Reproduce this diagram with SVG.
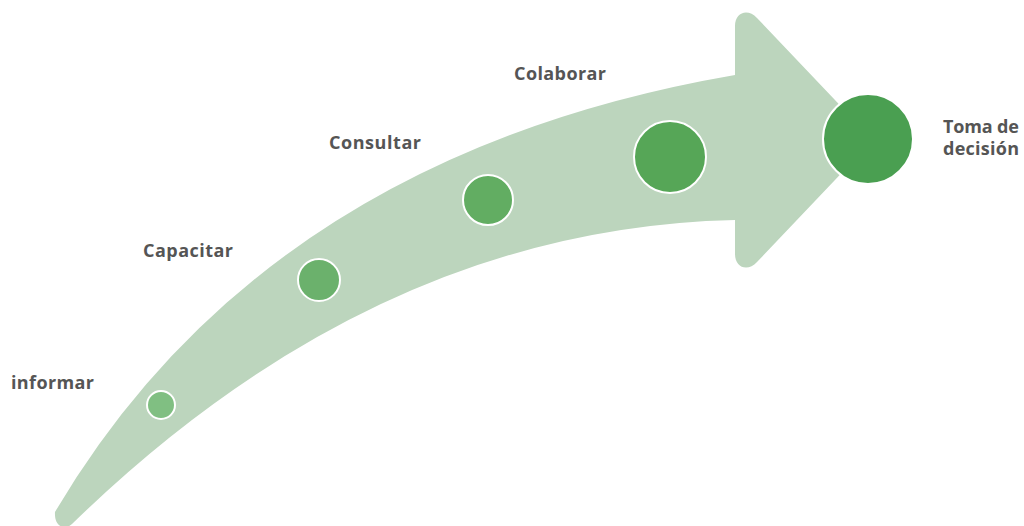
<svg xmlns="http://www.w3.org/2000/svg" width="1024" height="526" viewBox="0 0 1024 526">
<style>
.lbl{font-family:"Open Sans","Noto Sans",sans-serif;font-weight:bold;font-size:18px;fill:#555555}
.dot{stroke:#ffffff;stroke-width:2}
</style>
<rect width="1024" height="526" fill="#ffffff"/>
<g id="connectors">
<path id="arrow" fill="#bcd5bd" d="M55,512 Q265,156 735,75 L735,26 C735,12 748,8 757,18 L873,140 L757,262 C748,272 735,268 735,254 L735,220 Q376,228 72,524 C66,530 54,528 55,512 Z"/>
</g>
<g id="informar"><circle class="dot" cx="161" cy="405" r="14" fill="#80bf82"/><text class="lbl" x="11" y="389" textLength="83" lengthAdjust="spacing">informar</text></g>
<g id="capacitar"><circle class="dot" cx="319" cy="280" r="21" fill="#6bb16c"/><text class="lbl" x="143" y="257" textLength="90" lengthAdjust="spacing">Capacitar</text></g>
<g id="consultar"><circle class="dot" cx="488" cy="200" r="25" fill="#62ad62"/><text class="lbl" x="329" y="149" textLength="92" lengthAdjust="spacing">Consultar</text></g>
<g id="colaborar"><circle class="dot" cx="670" cy="157" r="36" fill="#56a657"/><text class="lbl" x="514" y="80" textLength="92" lengthAdjust="spacing">Colaborar</text></g>
<g id="toma"><circle class="dot" cx="868" cy="139" r="45" fill="#4a9f51"/><text class="lbl" x="943" y="133" textLength="76" lengthAdjust="spacing">Toma de</text><text class="lbl" x="943" y="155" textLength="76" lengthAdjust="spacing">decisión</text></g>
</svg>
